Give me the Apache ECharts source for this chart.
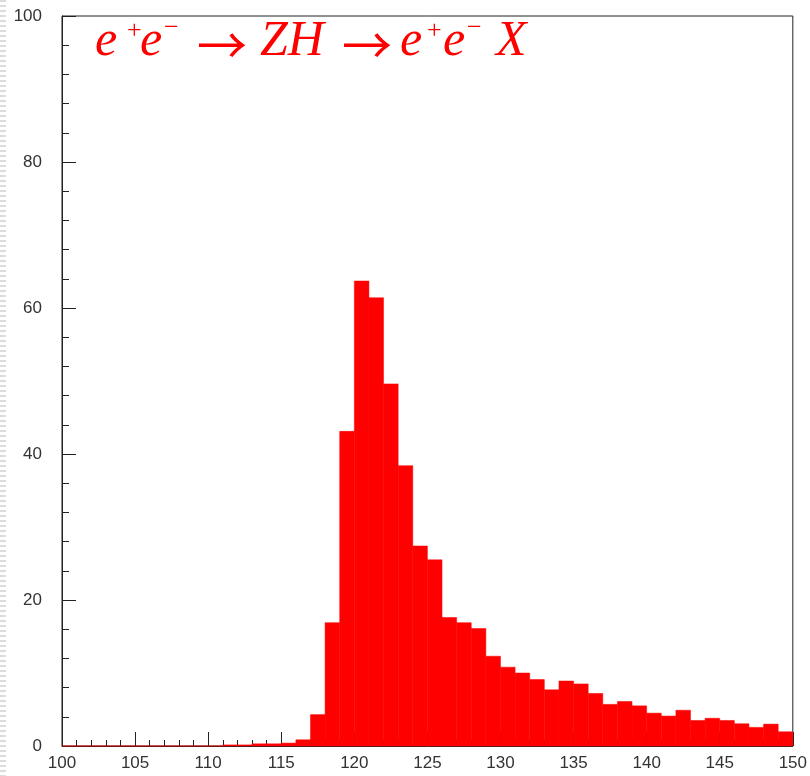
<!DOCTYPE html>
<html>
<head>
<meta charset="utf-8">
<script src="https://cdn.jsdelivr.net/npm/echarts@6/dist/echarts.min.js"></script>
<style>
  html, body { margin: 0; padding: 0; background: #fff; }
  #chart { width: 810px; height: 776px; }
</style>
</head>
<body>
<div id="chart"></div>
<script>
// histogram: 1 GeV bins from 100 to 150
const binStart = 100;
const binWidth = 1;
const counts = [
  0, 0, 0, 0, 0, 0, 0, 0, 0, 0, 0,
  0.15, 0.15, 0.3, 0.3, 0.4, 0.85, 4.3, 16.9, 43.1,
  63.7, 61.4, 49.6, 38.4, 27.4, 25.5, 17.6, 16.9, 16.1, 12.3,
  10.8, 10.0, 9.1, 7.7, 8.9, 8.5, 7.2, 5.7, 6.1, 5.5,
  4.5, 4.1, 4.9, 3.5, 3.8, 3.5, 3.05, 2.55, 3.0, 1.95
];
const xRange = [100, 150];
const yRange = [0, 100];

const histData = counts.map((c, i) => [binStart + i * binWidth, binStart + (i + 1) * binWidth, c]);

const chart = echarts.init(document.getElementById('chart'));

const axisColor = '#222';
const labelStyle = { color: '#333', fontSize: 17, fontFamily: 'Liberation Sans, Arial, sans-serif' };

// title pieces: e+e- -> ZH -> e+e-X (TLatex style)
const serif = 'Liberation Serif, Times New Roman, serif';
function piece(text, x, y, size, italic, font) {
  return {
    type: 'text', x: x, y: y, silent: true, z: 10,
    style: {
      text: text, fill: '#ff0000', fontSize: size, fontFamily: font || serif,
      fontStyle: italic ? 'italic' : 'normal', fontWeight: 'normal',
      verticalAlign: 'middle'
    }
  };
}
const titleParts = [
  piece('e', 95, 42, 50, true),
  piece('+', 127, 31, 26, false),
  piece('e', 140, 42, 50, true),
  piece('\u2212', 164, 28, 26, false),
  piece('\u2192', 197, 45, 50, false, 'Noto Sans CJK SC'),
  piece('ZH', 260, 42, 50, true),
  piece('\u2192', 342, 45, 50, false, 'Noto Sans CJK SC'),
  piece('e', 400, 42, 50, true),
  piece('+', 427, 31, 26, false),
  piece('e', 443, 42, 50, true),
  piece('\u2212', 467, 28, 26, false),
  piece('X', 496, 42, 50, true)
];

chart.setOption({
  animation: false,
  grid: {
    left: 62, right: 15, top: 16, bottom: 30,
    show: true, borderColor: axisColor, borderWidth: 1, backgroundColor: '#fff'
  },
  xAxis: {
    type: 'value',
    min: xRange[0], max: xRange[1], interval: 5,
    axisLine: { lineStyle: { color: axisColor } },
    axisTick: { inside: true, length: 14, lineStyle: { color: axisColor } },
    minorTick: { show: true, splitNumber: 5, length: 6, lineStyle: { color: axisColor } },
    splitLine: { show: false },
    axisLabel: Object.assign({ margin: 9 }, labelStyle)
  },
  yAxis: {
    type: 'value',
    min: yRange[0], max: yRange[1], interval: 20,
    axisLine: { show: true, lineStyle: { color: axisColor } },
    axisTick: { show: true, inside: true, length: 14, lineStyle: { color: axisColor } },
    minorTick: { show: true, splitNumber: 5, length: 7, lineStyle: { color: axisColor } },
    splitLine: { show: false },
    axisLabel: Object.assign({ margin: 20 }, labelStyle)
  },
  graphic: [{
    type: 'line',
    shape: { x1: 3, y1: 0, x2: 3, y2: 776 },
    style: { stroke: '#dcdcdc', lineWidth: 6, lineDash: [2, 3] },
    silent: true
  }].concat(titleParts),
  series: [{
    type: 'custom',
    data: histData,
    encode: { x: [0, 1], y: 2 },
    renderItem: function (params, api) {
      const lo = api.coord([api.value(0), api.value(2)]);
      const hi = api.coord([api.value(1), 0]);
      return {
        type: 'rect',
        shape: { x: lo[0], y: lo[1], width: hi[0] - lo[0], height: hi[1] - lo[1] },
        style: { fill: '#ff0000', stroke: '#ff0000', lineWidth: 0.5 }
      };
    },
    z: 1
  }]
});
</script>
</body>
</html>
